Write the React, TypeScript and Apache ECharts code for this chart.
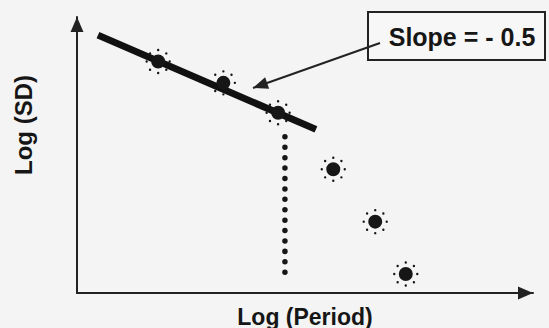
import React, { useEffect, useRef } from "react";
import * as echarts from "echarts";

// Observations (log period, log SD)
const logPeriod = [1.78, 3.21, 4.41, 5.62, 6.54, 7.21];
const logSD = [5.87, 5.33, 4.57, 3.14, 1.81, 0.48];

// Fitted line through the short-period points
const SLOPE = -0.5;
const INTERCEPT = 6.77;
const fitRange = [0.46, 5.24];

// Dotted drop line marking where the fit stops
const dropX = 4.56;
const dropRange = [3.96, 0.28];

const slopeLabel = "Slope = - 0.5";
const xTitle = "Log (Period)";
const yTitle = "Log (SD)";

const INK = "#161616";
const FONT = "'Liberation Sans', Arial, Helvetica, sans-serif";

// Filled dot surrounded by a ring of eight small dots
function sparkSymbol(): string {
  const c = 13;
  const circ = (cx: number, cy: number, r: number) =>
    `M${cx - r} ${cy} a${r} ${r} 0 1 0 ${2 * r} 0 a${r} ${r} 0 1 0 ${-2 * r} 0 Z`;
  let d = circ(c, c, 7);
  for (let i = 0; i < 8; i++) {
    const a = (i * Math.PI) / 4;
    d += " " + circ(c + 11.5 * Math.cos(a), c + 11.5 * Math.sin(a), 1.2);
  }
  return "path://" + d;
}

// Callout arrow from the label box to the fitted line
function arrowHead(tip: number[], from: number[], len: number, half: number) {
  const dx = tip[0] - from[0];
  const dy = tip[1] - from[1];
  const l = Math.hypot(dx, dy);
  const ux = dx / l;
  const uy = dy / l;
  const bx = tip[0] - len * ux;
  const by = tip[1] - len * uy;
  return [
    [tip[0], tip[1]],
    [bx - half * uy, by + half * ux],
    [bx + half * uy, by - half * ux],
  ];
}

export default function App() {
  const ref = useRef<HTMLDivElement>(null);

  useEffect(() => {
    if (!ref.current) return;
    const chart = echarts.init(ref.current, undefined, { renderer: "svg" });

    const fitData = fitRange.map((x) => [x, INTERCEPT + SLOPE * x]);
    const dropData = dropRange.map((y) => [dropX, y]);
    const points = logPeriod.map((x, i) => [x, logSD[i]]);

    const arrowFrom = [380, 43];
    const arrowTip = [253, 88];

    const axisLine = {
      show: true,
      onZero: false,
      symbol: ["none", "triangle"],
      symbolSize: [13, 15],
      symbolOffset: [0, -7.5],
      lineStyle: { color: "#222", width: 2 },
    };

    chart.setOption({
      animation: false,
      backgroundColor: "#f4f4f4",
      grid: { left: 77, right: 16, top: 17, bottom: 35, outerBoundsMode: "none" },
      xAxis: {
        type: "value",
        min: 0,
        max: 10,
        axisLine,
        axisTick: { show: false },
        axisLabel: { show: false },
        splitLine: { show: false },
        name: xTitle,
        nameLocation: "middle",
        nameGap: 12,
        nameTextStyle: { fontFamily: FONT, fontWeight: "bold", fontSize: 23, color: INK },
      },
      yAxis: {
        type: "value",
        min: 0,
        max: 7,
        axisLine,
        axisTick: { show: false },
        axisLabel: { show: false },
        splitLine: { show: false },
        name: yTitle,
        nameLocation: "middle",
        nameGap: 42,
        nameTextStyle: {
          fontFamily: FONT,
          fontWeight: "bold",
          fontSize: 24,
          color: INK,
          padding: [0, 0, 0, 60],
        },
      },
      series: [
        {
          type: "line",
          data: dropData,
          symbol: "none",
          silent: true,
          z: 1,
          lineStyle: { color: INK, width: 5.5, type: [0.01, 10.4], cap: "round" },
        },
        {
          type: "line",
          data: fitData,
          symbol: "none",
          silent: true,
          z: 2,
          lineStyle: { color: "#111", width: 7, cap: "butt" },
        },
        {
          type: "scatter",
          data: points,
          symbol: sparkSymbol(),
          symbolSize: 25.4,
          z: 3,
          itemStyle: { color: INK, opacity: 1 },
        },
      ],
      graphic: [
        {
          type: "rect",
          shape: { x: 368, y: 12, width: 177, height: 48 },
          style: { fill: "#f7f7f7", stroke: "#222", lineWidth: 2 },
          z: 10,
        },
        {
          type: "line",
          shape: { x1: arrowFrom[0], y1: arrowFrom[1], x2: arrowTip[0], y2: arrowTip[1] },
          style: { stroke: "#222", lineWidth: 2 },
          z: 11,
        },
        {
          type: "polygon",
          shape: { points: arrowHead(arrowTip, arrowFrom, 15, 6) },
          style: { fill: "#222" },
          z: 11,
        },
        {
          type: "text",
          x: 462,
          y: 37,
          style: {
            text: slopeLabel,
            fontFamily: FONT,
            fontWeight: "bold",
            fontSize: 25,
            fill: INK,
            align: "center",
            verticalAlign: "middle",
          },
          z: 12,
        },
      ],
    });

    return () => chart.dispose();
  }, []);

  return (
    <div
      ref={ref}
      style={{ position: "fixed", left: 0, top: 0, width: 549, height: 328 }}
    />
  );
}
